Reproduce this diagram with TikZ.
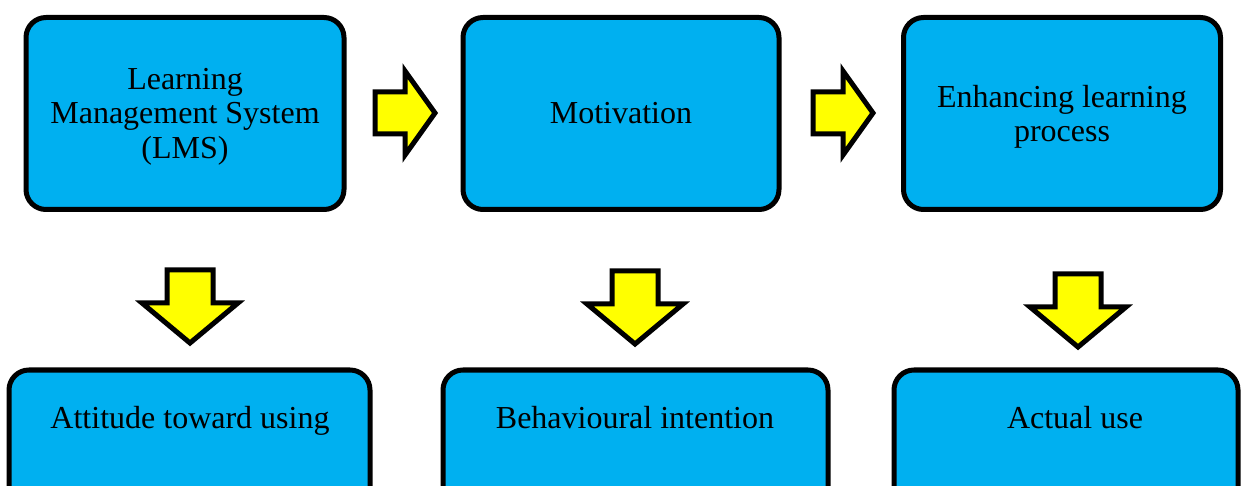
\documentclass[tikz,border=0pt]{standalone}
\usepackage{fontspec}
\setmainfont{Liberation Serif}
\definecolor{boxblue}{HTML}{00B0F0}
\definecolor{arrowyellow}{HTML}{FFFF00}
\begin{document}
\begin{tikzpicture}[x=1pt,y=-1pt,
  box/.style={draw=black, line width=5pt, fill=boxblue, rounded corners=20pt, inner sep=0pt},
  boxtext/.style={font=\fontsize{32}{34.5}\selectfont, align=center, text=black},
  blockarrow/.style={draw=black, line width=5pt, fill=arrowyellow, line join=miter},
  rarrow/.pic={\draw[blockarrow] (0,-21) -- (30,-21) -- (30,-42) -- (60,0) -- (30,42) -- (30,21) -- (0,21) -- cycle;},
  darrow/.pic={\draw[blockarrow] (-23,0) -- (23,0) -- (23,33) -- (48,33) -- (0,73) -- (-48,33) -- (-23,33) -- cycle;}]
\useasboundingbox (0,0) rectangle (1248,486);
% top row
\node[box, minimum width=318pt, minimum height=192pt] (b1) at (185,113.5) {};
\node[box, boxtext, minimum width=316pt, minimum height=192pt] (b2) at (621,113.5) {Motivation};
\node[box, minimum width=317pt, minimum height=192pt] (b3) at (1062,113.5) {};
\node[boxtext] (t1) at (185,116.5) {Learning\\Management System\\(LMS)};
\node[boxtext] (t3) at (1062,117) {Enhancing learning\\process};
% bottom row
\node[box, minimum width=361pt, minimum height=150pt] (b4) at (189.5,445) {};
\node[box, minimum width=385pt, minimum height=150pt] (b5) at (635.5,445) {};
\node[box, minimum width=344pt, minimum height=150pt] (b6) at (1066,445) {};
\node[boxtext, anchor=base] (t4) at (190,428) {Attitude toward using};
\node[boxtext, anchor=base] (t5) at (635,428) {Behavioural intention};
\node[boxtext, anchor=base] (t6) at (1075,428) {Actual use};
% arrows
\pic (a1) at (375,113) {rarrow};
\pic (a2) at (813,113) {rarrow};
\pic (d1) at (190,270) {darrow};
\pic (d2) at (635,271) {darrow};
\pic (d3) at (1078,274) {darrow};
\end{tikzpicture}
\end{document}
